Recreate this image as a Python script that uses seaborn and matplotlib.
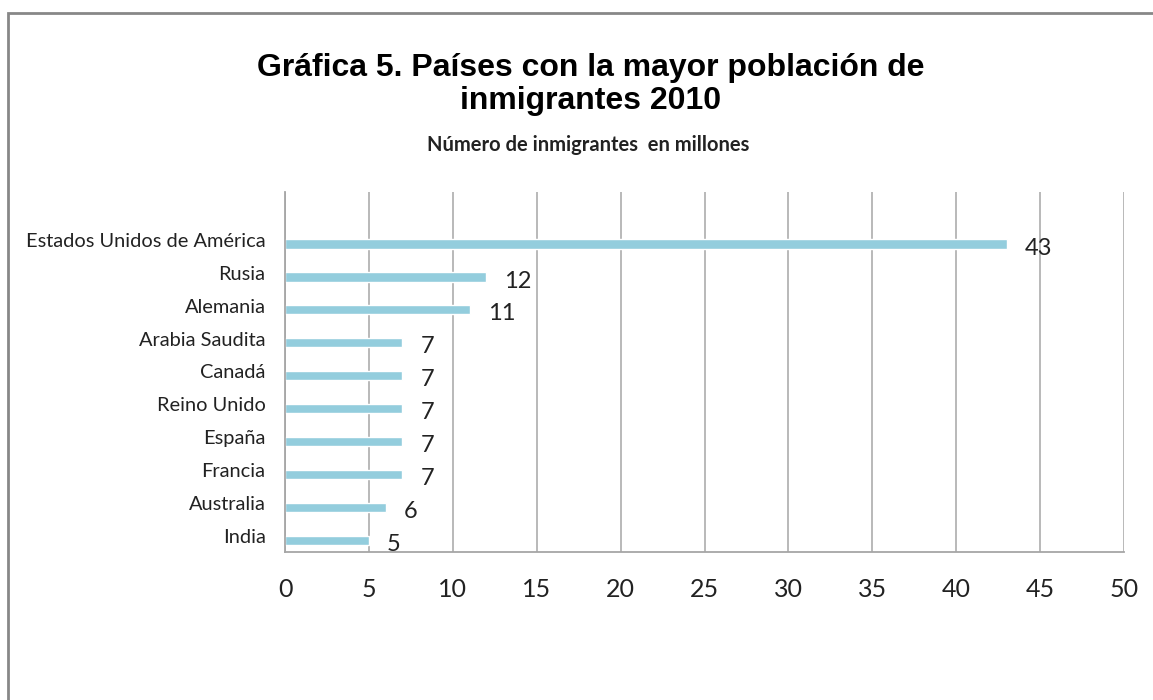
import numpy as np
import pandas as pd
import matplotlib.pyplot as plt
import matplotlib.transforms as mtransforms
import seaborn as sns
from matplotlib.patches import Rectangle

paises = ['Estados Unidos de América', 'Rusia', 'Alemania', 'Arabia Saudita',
          'Canadá', 'Reino Unido', 'España', 'Francia', 'Australia', 'India']
millones = [43, 12, 11, 7, 7, 7, 7, 7, 6, 5]
xticks = [0, 5, 10, 15, 20, 25, 30, 35, 40, 45, 50]

df = pd.DataFrame({'pais': paises, 'millones': millones})

sns.set_style('white')
plt.rcParams['font.family'] = ['Lato', 'DejaVu Sans']

fig = plt.figure(figsize=(11.53, 7.0), dpi=100)
ax = fig.add_axes([0.2472, 0.2114, 0.7277, 0.5143])

sns.barplot(data=df, x='millones', y='pais', color='#93CDDD', width=0.28,
            saturation=1, ax=ax, orient='h')

ax.set_xlim(0, 50)
ax.set_ylim(9.36, -1.58)
ax.set_xticks(xticks)
ax.set_xlabel('')
ax.set_ylabel('')
ax.grid(axis='x', color='#A6A6A6', lw=1.1)
ax.set_axisbelow(True)
for s in ['top', 'right']:
    ax.spines[s].set_visible(False)
for s in ['left', 'bottom']:
    ax.spines[s].set_color('#A6A6A6')
    ax.spines[s].set_linewidth(1.3)
ax.tick_params(axis='x', labelsize=18, colors='#222222', length=0, pad=19)
ax.tick_params(axis='y', labelsize=14.4, colors='#222222', length=0, pad=14)

# etiquetas de categoría un poco por encima de la barra
up = mtransforms.ScaledTranslation(0, 3 / 72, fig.dpi_scale_trans)
for lab in ax.get_yticklabels():
    lab.set_transform(lab.get_transform() + up)

for i, v in enumerate(millones):
    ax.annotate(str(v), (v, i), xytext=(13, -3), textcoords='offset points',
                va='center', ha='left', fontsize=17, color='#222222')

fig.text(0.512, 0.879, 'Gráfica 5. Países con la mayor población de\ninmigrantes 2010',
         ha='center', va='center', fontsize=23, fontweight='bold', color='black',
         family=['Liberation Sans', 'DejaVu Sans'], linespacing=1.15)
fig.text(0.51, 0.793, 'Número de inmigrantes  en millones', ha='center', va='center',
         fontsize=14.5, fontweight='bold', color='#222222')

# marco del gráfico
fig.patches.append(Rectangle((8 / 1153, -0.05), 1.1, 1.0 - 13 / 700 + 0.05,
                             transform=fig.transFigure, fill=False,
                             edgecolor='#878787', lw=2))

fig.savefig('out.png', dpi=100, facecolor='white')
